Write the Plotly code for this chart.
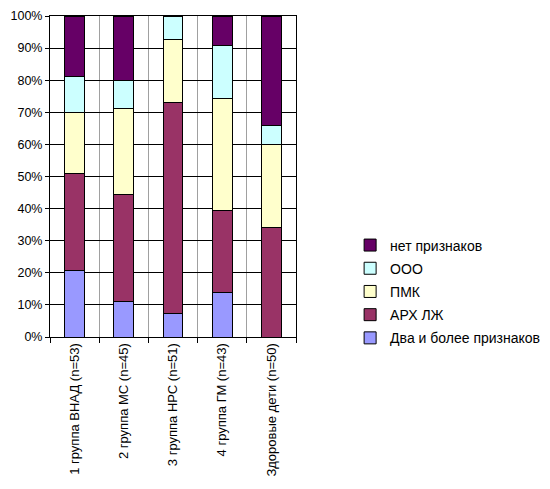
import plotly.graph_objects as go

# ---- data (percent of each group) ----
groups = ["1 группа ВНАД (n=53)", "2 группа МС (n=45)", "3 группа НРС (n=51)",
          "4 группа ГМ (n=43)", "Здоровые дети (n=50)"]

dva = [20.8, 11.1, 7.2, 13.9, 0.0]
arh = [30.2, 33.3, 65.9, 25.6, 34.0]
pmk = [18.8, 26.7, 19.6, 34.9, 26.0]
ooo = [11.3, 8.9, 7.3, 16.3, 6.0]
net = [18.9, 20.0, 0.0, 9.3, 34.0]

series = [
    ("Два и более признаков", dva, "#9999FF"),
    ("АРХ ЛЖ", arh, "#993366"),
    ("ПМК", pmk, "#FFFFCC"),
    ("ООО", ooo, "#CCFFFF"),
    ("нет признаков", net, "#660066"),
]

fig = go.Figure()
for i, (name, vals, col) in enumerate(series):
    fig.add_trace(go.Bar(x=groups, y=vals, name=name, legendgroup=name,
                         legendrank=1000 - i,
                         marker=dict(color=col, line=dict(color="black", width=1))))

fig.update_layout(
    barmode="stack",
    bargap=0.6,
    width=550, height=489,
    margin=dict(l=42, r=262, t=8, b=160, autoexpand=False),
    paper_bgcolor="white", plot_bgcolor="white",
    font=dict(family="Arial, Liberation Sans, sans-serif", size=11, color="black"),
    legend=dict(traceorder="grouped", x=1.22, y=0.335, xanchor="left", yanchor="top",
                font=dict(size=14), tracegroupgap=2, itemwidth=30),
    showlegend=True,
)

fig.update_yaxes(range=[0, 100], dtick=10, ticksuffix="%", automargin=False,
                 showgrid=True, gridcolor="black", gridwidth=1,
                 showline=True, linecolor="black", linewidth=1, mirror=True,
                 ticks="outside", ticklen=4, tickcolor="black", zeroline=False,
                 tickfont=dict(size=12.5))
fig.update_xaxes(tickson="boundaries", showgrid=True, gridcolor="#A0A0A0",
                 showline=True, linecolor="black", linewidth=1, mirror=True,
                 automargin=False,
                 ticks="outside", ticklen=5, tickcolor="black",
                 tickangle=-90, tickfont=dict(size=13))

fig.write_html("out.html")
